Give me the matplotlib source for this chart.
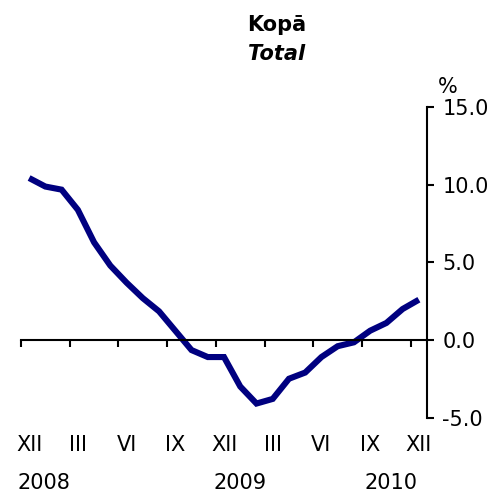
import matplotlib
matplotlib.use("Agg")
import matplotlib.pyplot as plt
import matplotlib.transforms as mtransforms

# Data: monthly values, XII 2008 ... XII 2010
values = [10.45, 9.9, 9.7, 8.4, 6.3, 4.8, 3.7, 2.7, 1.85, 0.6,
          -0.65, -1.1, -1.1, -3.0, -4.1, -3.8, -2.5, -2.1, -1.1, -0.4,
          -0.15, 0.6, 1.1, 2.0, 2.6]
month_labels = ["XII", "III", "VI", "IX", "XII", "III", "VI", "IX", "XII"]
year_labels = ["2008", "2009", "2010"]
year_pos = [0.9, 13.0, 22.3]
y_ticks = [-5, 0, 5, 10, 15]

plt.rcParams['font.family'] = ['DejaVu Sans']
fs = 15

fig = plt.figure(figsize=(4.91, 4.94), dpi=100)
ax = fig.add_axes([21/491, 1-417.5/494, (427-21)/491, (417.5-107.5)/494])

x = list(range(len(values)))
ax.plot(x, values, color="#000080", lw=4.4, solid_joinstyle="miter", solid_capstyle="butt")

ax.set_xlim(-0.5, len(values) - 0.5)
ax.set_ylim(-5, 15)

for s in ["left", "top"]:
    ax.spines[s].set_visible(False)
ax.spines["bottom"].set_position(("data", 0))
ax.spines["bottom"].set_linewidth(1.5)
ax.spines["right"].set_linewidth(1.5)

ax.yaxis.tick_right()
ax.set_yticks(y_ticks)
ax.set_yticklabels([f"{v:.1f}" for v in y_ticks], fontsize=fs)
ax.tick_params(axis="y", direction="out", length=5, width=1.5, pad=6)

tick_pos = [i * 3 - 0.5 for i in range(len(month_labels))]
ax.set_xticks(tick_pos)
ax.set_xticklabels([])
ax.tick_params(axis="x", direction="out", length=5, width=1.5)

trans = mtransforms.blended_transform_factory(ax.transData, fig.transFigure)
for i, lab in enumerate(month_labels):
    ax.text(i * 3, 1 - 445/494, lab, transform=trans, ha="center", va="center", fontsize=fs)
for p, lab in zip(year_pos, year_labels):
    ax.text(p, 1 - 483/494, lab, transform=trans, ha="center", va="center", fontsize=fs)

fig.text(448/491, 1 - 87/494, "%", ha="center", va="center", fontsize=fs)
fig.text(277/491, 1 - 25/494, "Kopā", ha="center", va="center", fontsize=fs, fontweight="bold")
fig.text(277/491, 1 - 54/494, "Total", ha="center", va="center", fontsize=fs,
         fontweight="bold", fontstyle="italic")

fig.savefig("out.png", dpi=100)
